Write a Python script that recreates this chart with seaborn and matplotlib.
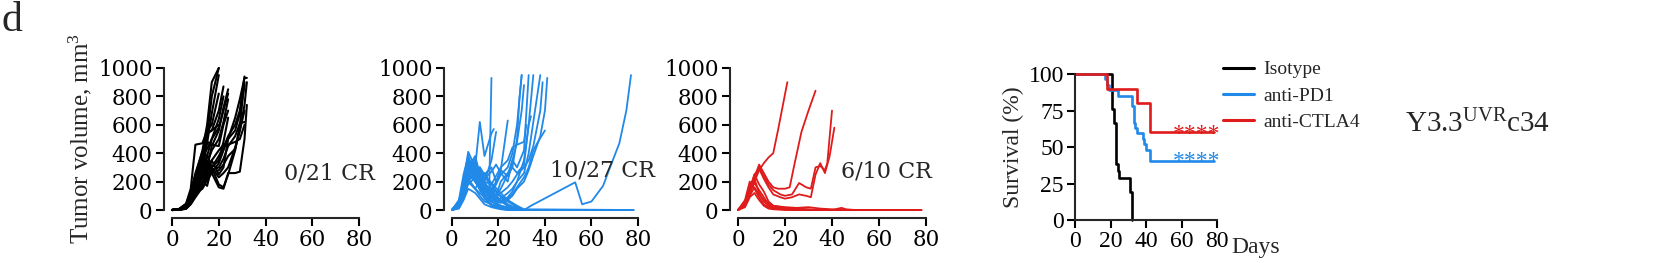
import matplotlib
matplotlib.use("Agg")
import matplotlib.pyplot as plt
import seaborn as sns
import numpy as np
import pandas as pd

# colours
C_ISO = "black"
C_PD1 = "#2189e8"
C_CTLA4 = "#e01b1b"

# ---- tumour growth data (days, volume mm3), one entry per mouse ----
iso_days = [0, 3, 6, 8, 10, 13, 15, 17, 20, 22, 24, 27, 29, 31, 32]
iso_vol = [
    [0, 4, 25, 90, 180, 320, 520, 800, 1000],
    [0, 6, 35, 120, 240, 420, 600, 900, 1000],
    [0, 3, 20, 70, 150, 280, 470, 680, 950],
    [0, 8, 45, 150, 460, 470, 560, 600, 820],
    [0, 5, 30, 100, 200, 350, 540, 560, 600],
    [0, 5, 30, 100, 200, 350, 540, 560, 700, 870],
    [0, 2, 15, 60, 130, 240, 380, 500, 640, 800],
    [0, 4, 28, 95, 190, 330, 300, 450, 560, 720, 850],
    [0, 3, 18, 75, 160, 260, 330, 420, 500, 620, 780],
    [0, 6, 40, 130, 260, 410, 480, 460, 450, 600, 700],
    [0, 2, 12, 50, 110, 200, 170, 300, 350, 480, 650],
    [0, 2, 12, 50, 110, 200, 280, 350, 250, 300, 500, 650, 780, 930, 930],
    [0, 5, 25, 80, 170, 280, 390, 300, 180, 160, 250, 420, 600, 900],
    [0, 3, 20, 70, 140, 230, 300, 260, 160, 150, 260, 260, 270, 500, 740],
    [0, 1, 10, 45, 100, 180, 250, 300, 230, 260, 300, 440, 560, 700],
    [0, 4, 22, 85, 160, 270, 340, 280, 300, 360, 450, 520, 610, 620],
    [0, 3, 15, 55, 120, 150, 210, 260, 330, 420, 500, 560, 680, 880],
    [0, 2, 14, 60, 115, 190, 270, 350, 420, 460, 460, 480, 500, 600],
    [0, 5, 30, 90, 150, 240, 310, 260, 280, 320, 380, 430, 560, 740, 900],
    [0, 6, 34, 110, 230, 380, 430, 500, 580, 700, 820],
    [0, 1, 8, 40, 90, 160, 230, 300, 380, 440, 520, 600, 700, 940],
]

pd1_cr_days = [0, 3, 5, 7, 10, 12, 14, 17, 21, 24, 28, 31, 78]
pd1_cr_vol = [
    [0, 30, 120, 300, 200, 150, 80, 30, 10, 0, 0, 0, 0],
    [0, 50, 200, 410, 300, 180, 90, 40, 15, 5, 0, 0, 0],
    [0, 20, 90, 250, 340, 260, 140, 60, 20, 10, 0, 0, 0],
    [0, 60, 180, 220, 150, 200, 230, 180, 90, 40, 10, 0, 0],
    [0, 10, 70, 150, 120, 80, 40, 20, 5, 0, 0, 0, 0],
    [0, 40, 160, 330, 280, 240, 200, 120, 60, 30, 10, 0, 0],
    [0, 30, 100, 200, 260, 300, 250, 190, 120, 70, 30, 5, 0],
    [0, 70, 250, 380, 220, 140, 100, 60, 30, 10, 0, 0, 0],
    [0, 25, 110, 180, 230, 160, 120, 150, 100, 60, 20, 0, 0],
    [0, 45, 140, 260, 310, 230, 170, 130, 70, 30, 5, 0, 0],
]
pd1_prog = [
    ([0, 3, 5, 7, 10, 12, 14, 16, 17], [0, 40, 150, 380, 250, 300, 180, 120, 930]),
    ([0, 3, 5, 7, 10, 12, 14, 17, 18], [0, 60, 200, 350, 300, 620, 380, 540, 570]),
    ([0, 3, 5, 7, 10, 12, 14, 17, 19], [0, 30, 140, 300, 380, 250, 200, 350, 550]),
    ([0, 3, 5, 7, 10, 12, 14, 17, 19, 21, 24], [0, 50, 180, 260, 200, 150, 250, 300, 200, 280, 630]),
    ([0, 3, 5, 7, 10, 12, 14, 17, 19, 21, 24, 26, 28, 30],
     [0, 20, 100, 220, 300, 200, 150, 120, 180, 250, 300, 400, 600, 950]),
    ([0, 3, 5, 7, 10, 12, 14, 17, 19, 21, 24, 26, 28, 30, 31],
     [0, 40, 160, 320, 230, 170, 220, 270, 320, 260, 200, 350, 480, 700, 880]),
    ([0, 3, 5, 7, 10, 12, 14, 17, 19, 21, 24, 26, 28, 29, 30],
     [0, 30, 120, 250, 280, 200, 260, 150, 100, 200, 260, 300, 500, 780, 950]),
    ([0, 3, 5, 7, 10, 12, 14, 17, 19, 21, 24, 26, 28, 31, 32],
     [0, 60, 200, 330, 250, 300, 200, 180, 240, 300, 350, 440, 460, 480, 600]),
    ([0, 3, 5, 7, 10, 12, 14, 17, 19, 21, 24, 26, 28, 31, 33],
     [0, 15, 80, 200, 150, 120, 90, 60, 100, 150, 250, 350, 300, 420, 950]),
    ([0, 3, 5, 7, 10, 12, 14, 17, 19, 21, 24, 26, 28, 31, 33, 34],
     [0, 35, 150, 280, 360, 250, 180, 140, 200, 280, 240, 300, 260, 320, 600, 660]),
    ([0, 3, 5, 7, 10, 12, 14, 17, 19, 21, 24, 26, 28, 31, 33, 35],
     [0, 25, 100, 240, 300, 220, 160, 90, 60, 80, 120, 150, 200, 350, 600, 950]),
    ([0, 3, 5, 7, 10, 12, 14, 17, 19, 21, 24, 26, 28, 31, 33, 35, 38],
     [0, 45, 170, 350, 260, 190, 140, 100, 80, 60, 90, 130, 200, 260, 400, 620, 950]),
    ([0, 3, 5, 7, 10, 12, 14, 17, 19, 21, 24, 26, 28, 31, 33, 35, 38, 39],
     [0, 20, 90, 210, 250, 200, 150, 110, 90, 120, 160, 200, 250, 300, 350, 450, 700, 900]),
    ([0, 3, 5, 7, 10, 12, 14, 17, 19, 21, 24, 26, 28, 31, 33, 35, 38, 40, 41],
     [0, 30, 130, 260, 200, 150, 110, 80, 60, 50, 70, 100, 150, 200, 280, 380, 520, 700, 930]),
    ([0, 3, 5, 7, 10, 12, 14, 17, 19, 21, 24, 26, 28, 31, 33, 35, 37, 40],
     [0, 55, 190, 300, 240, 180, 130, 90, 70, 60, 80, 110, 160, 230, 300, 420, 480, 560]),
    ([0, 3, 5, 7, 10, 12, 14, 17, 19, 21, 24, 26, 28, 31],
     [0, 40, 150, 290, 220, 180, 130, 90, 50, 30, 20, 10, 5, 0]),
    ([0, 3, 5, 7, 10, 12, 14, 17, 21, 24, 28, 31, 34, 53, 56, 60, 65, 68, 72, 75, 77],
     [0, 20, 90, 200, 150, 100, 60, 40, 20, 10, 5, 0, 30, 195, 40, 60, 170, 300, 470, 700, 950]),
]

ctla4_cr_days = [0, 3, 5, 7, 9, 11, 13, 15, 20, 25, 30, 35, 40, 44, 46, 50, 78]
ctla4_cr_vol = [
    [0, 60, 180, 220, 120, 60, 30, 10, 5, 2, 0, 0, 0, 0, 0, 0, 0],
    [0, 40, 130, 190, 140, 90, 40, 20, 10, 5, 2, 0, 0, 15, 5, 0, 0],
    [0, 70, 200, 150, 90, 40, 20, 10, 5, 0, 0, 0, 0, 0, 0, 0, 0],
    [0, 30, 100, 160, 110, 70, 50, 30, 20, 15, 20, 10, 5, 0, 0, 0, 0],
    [0, 50, 150, 250, 180, 130, 60, 30, 15, 10, 5, 0, 0, 0, 0, 0, 0],
    [0, 20, 90, 120, 70, 30, 10, 5, 0, 0, 0, 0, 0, 0, 0, 0, 0],
]
ctla4_prog = [
    ([0, 3, 5, 7, 9, 11, 13, 15, 17, 19, 21],
     [0, 40, 120, 200, 280, 330, 370, 400, 560, 730, 900]),
    ([0, 3, 5, 7, 9, 11, 13, 15, 17, 20, 22, 24, 27, 30, 33],
     [0, 50, 150, 230, 320, 260, 200, 160, 150, 150, 160, 320, 550, 700, 840]),
    ([0, 3, 5, 7, 9, 11, 13, 15, 18, 20, 23, 26, 29, 31, 33, 35, 37, 38, 40],
     [0, 30, 110, 220, 300, 240, 180, 140, 110, 100, 110, 190, 160, 150, 300, 310, 280, 330, 700]),
    ([0, 3, 5, 7, 9, 11, 13, 15, 18, 20, 23, 26, 29, 31, 33, 35, 37, 39, 41],
     [0, 40, 130, 250, 290, 220, 160, 110, 90, 80, 90, 110, 100, 90, 250, 330, 260, 380, 580]),
]

# ---- Kaplan-Meier survival (%), step points ----
iso_t = [0, 21, 22, 23, 24, 25, 31, 32]
iso_s = [100, 76.2, 66.7, 38.1, 33.3, 28.6, 19.0, 0]
pd1_t = [0, 17, 18, 19, 24, 32, 33, 34, 35, 38, 39, 40, 42, 78]
pd1_s = [100, 96.3, 92.6, 88.9, 85.2, 77.8, 66.7, 63.0, 59.3, 55.6, 51.9, 48.1, 40.7, 40.7]
ctla4_t = [0, 18, 35, 42, 78]
ctla4_s = [100, 90, 80, 60, 60]

groups = ["Isotype", "anti-PD1", "anti-CTLA4"]
cr_text = ["0/21 CR", "10/27 CR", "6/10 CR"]
cr_pos = [(48, 260), (42, 280), (44, 268)]


def to_long(mice):
    rows = []
    for i, (d, v) in enumerate(mice):
        for dd, vv in zip(d, v):
            rows.append((i, dd, vv))
    return pd.DataFrame(rows, columns=["mouse", "day", "vol"])


iso_df = to_long([(iso_days[:len(v)], v) for v in iso_vol])
pd1_df = to_long([(pd1_cr_days, v) for v in pd1_cr_vol] + pd1_prog)
ctla4_df = to_long([(ctla4_cr_days, v) for v in ctla4_cr_vol] + ctla4_prog)

sns.set_theme(style="ticks")
plt.rcParams['font.family'] = ['Liberation Serif', 'DejaVu Serif']
plt.rcParams['mathtext.fontset'] = 'custom'
plt.rcParams['mathtext.rm'] = 'Liberation Serif'
plt.rcParams['mathtext.it'] = 'Liberation Serif:italic'
plt.rcParams['axes.linewidth'] = 1.5

# the tumour panels use wider lettering, like the reference
WIDE = ['DejaVu Serif']

fig = plt.figure(figsize=(16.67, 2.63), dpi=100)

lefts = [0.1032, 0.2711, 0.4427]
widths = [0.1122, 0.1116, 0.1128]
dfs = [iso_df, pd1_df, ctla4_df]
cols = [C_ISO, C_PD1, C_CTLA4]

for k in range(3):
    ax = fig.add_axes([lefts[k], 0.2015, widths[k], 0.540])
    sns.lineplot(data=dfs[k], x="day", y="vol", units="mouse", estimator=None,
                 color=cols[k], lw=1.5 if k == 0 else 1.3, ax=ax, legend=False)
    ax.set_xlim(0, 80)
    ax.set_ylim(0, 1000)
    ax.set_xticks([0, 20, 40, 60, 80])
    ax.set_yticks([0, 200, 400, 600, 800, 1000])
    for ln in ax.lines:
        ln.set_clip_on(False)
    sns.despine(ax=ax, offset=6)
    ax.spines['left'].set_bounds(0, 1000)
    ax.spines['bottom'].set_bounds(0, 80)
    ax.tick_params(labelsize=15.5, width=1.5, length=6, pad=2, colors="black")
    for lab in ax.get_xticklabels() + ax.get_yticklabels():
        lab.set_family(WIDE)
    ax.set_xlabel("")
    ax.set_ylabel("")
    ax.text(cr_pos[k][0], cr_pos[k][1], cr_text[k], fontsize=16, va="center",
            ha="left", family=WIDE)

fig.axes[0].set_ylabel("Tumor volume, mm$^3$", fontsize=18, labelpad=3)

# survival panel
axs = fig.add_axes([0.6449, 0.1635, 0.0852, 0.555])
surv = [(iso_t, iso_s, C_ISO), (pd1_t, pd1_s, C_PD1), (ctla4_t, ctla4_s, C_CTLA4)]
for (t, s, c), g in zip(surv, groups):
    sns.lineplot(x=t, y=s, color=c, lw=1.9, drawstyle="steps-post", ax=axs,
                 label=g, estimator=None)
for ln in axs.lines:
    ln.set_clip_on(False)
axs.set_xlim(0, 80)
axs.set_ylim(0, 100)
axs.set_xticks([0, 20, 40, 60, 80])
axs.set_yticks([0, 25, 50, 75, 100])
sns.despine(ax=axs)
axs.tick_params(labelsize=17, width=1.5, length=6, pad=2, colors="black")
axs.set_ylabel("Survival (%)", fontsize=17, labelpad=3)
axs.text(55, 55, "****", color=C_CTLA4, fontsize=17, va="baseline")
axs.text(55, 36, "****", color=C_PD1, fontsize=17, va="baseline")
axs.text(88, -19, "Days", fontsize=17, va="center", ha="left", clip_on=False)

leg = axs.legend(loc="upper left", bbox_to_anchor=(1215 / 1667, 1 - 53 / 263),
                 bbox_transform=fig.transFigure, frameon=False, fontsize=14,
                 handlelength=1.6, handletextpad=0.5, labelspacing=0.45,
                 borderaxespad=0)
for h in leg.get_lines():
    h.set_linewidth(2.2)

fig.text(1405 / 1667, 1 - 124 / 263, "Y3.3$^{\\rm UVR}$c34", fontsize=21,
         va="center", ha="left")
fig.text(0.001, 0.995, "d", fontsize=30, va="top", ha="left")

fig.savefig("out.png", dpi=100)
